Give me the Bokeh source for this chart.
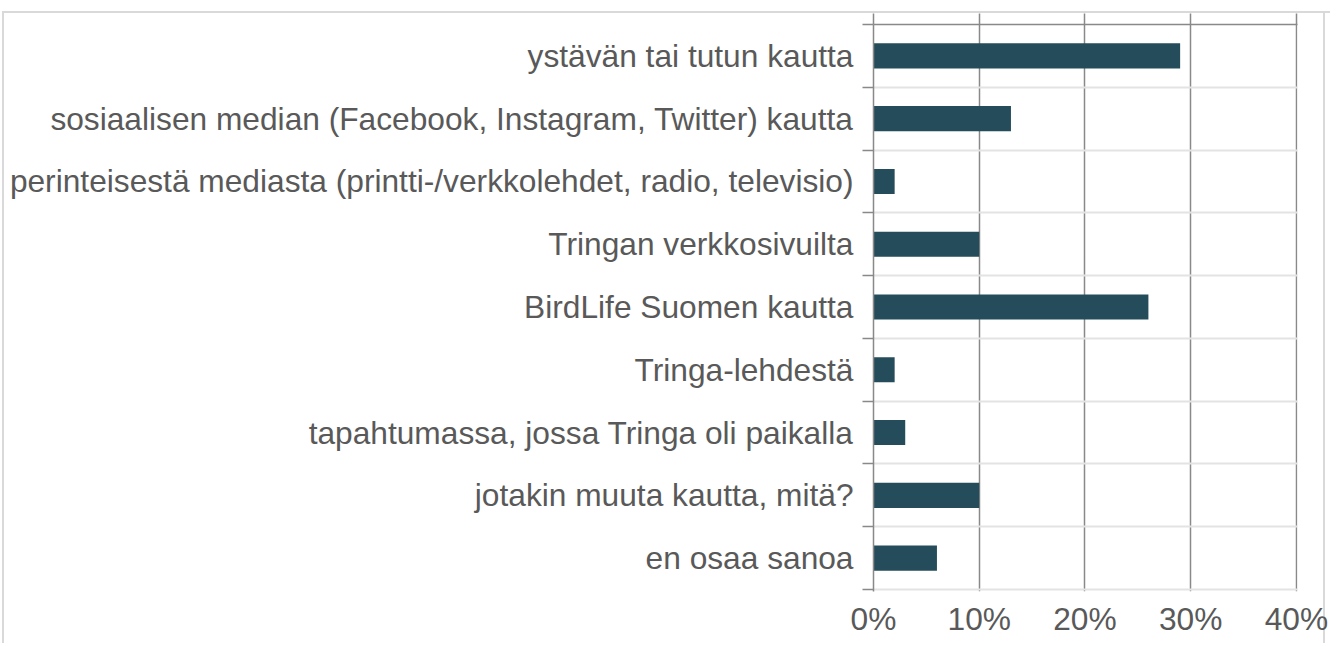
from bokeh.plotting import figure
from bokeh.models import Range1d, FixedTicker, LinearAxis
from bokeh.embed import file_html
from bokeh.resources import INLINE

categories = [
    "ystävän tai tutun kautta",
    "sosiaalisen median (Facebook, Instagram, Twitter) kautta",
    "perinteisestä mediasta (printti-/verkkolehdet, radio, televisio)",
    "Tringan verkkosivuilta",
    "BirdLife Suomen kautta",
    "Tringa-lehdestä",
    "tapahtumassa, jossa Tringa oli paikalla",
    "jotakin muuta kautta, mitä?",
    "en osaa sanoa",
]
values = [29, 13, 2, 10, 26, 2, 3, 10, 6]
x_ticks = [0, 10, 20, 30, 40]
x_tick_labels = ["0%", "10%", "20%", "30%", "40%"]

n = len(categories)
ypos = [n - i - 0.5 for i in range(n)]
boundaries = list(range(n + 1))

FONT = "Liberation Sans"
TXT = "#595959"
GRID = "#898989"
LIGHT = "#e3e3e3"
BAR = "#244c5a"
FS = "31.7px"

p = figure(width=1328, height=630, output_backend="svg", toolbar_location=None,
           x_range=Range1d(0, 40.1), y_range=Range1d(-0.032, n),
           min_border_left=871, min_border_right=33, min_border_top=11,
           min_border_bottom=52)
p.styles = {
    "position": "relative", "left": "2px", "top": "13px",
    "box-shadow": "0 -2px 0 0 #d9d9d9, inset 2px 0 0 0 #d9d9d9, "
                  "inset -5px 0 0 0 #ffffff, inset -7px 0 0 0 #d9d9d9",
}
p.border_fill_color = None
p.background_fill_color = "white"
p.outline_line_color = None

p.hbar(y=ypos, right=values, left=0, height=0.4, color=BAR, line_color=None)

# x axis (bottom)
xa = p.xaxis[0]
xa.ticker = FixedTicker(ticks=x_ticks)
xa.major_label_overrides = {t: l for t, l in zip(x_ticks, x_tick_labels)}
xa.axis_line_color = None
xa.major_tick_line_color = None
xa.minor_tick_line_color = None
xa.major_tick_out = 0
xa.minor_tick_out = 0
xa.major_label_standoff = 9
xa.major_label_text_font = FONT
xa.major_label_text_font_size = FS
xa.major_label_text_color = TXT

# top axis line with ticks
ta = LinearAxis(ticker=FixedTicker(ticks=x_ticks), major_tick_out=11, major_tick_in=0,
                minor_tick_out=0, minor_tick_in=0,
                axis_line_color=GRID, axis_line_width=1.5,
                major_tick_line_color=GRID, major_tick_line_width=1.5,
                minor_tick_line_color=None,
                major_label_text_font_size="0px", major_label_standoff=0)
ta.major_label_overrides = {t: "" for t in x_ticks}
p.add_layout(ta, "above")

# y axis
ya = p.yaxis[0]
ya.ticker = FixedTicker(ticks=ypos, minor_ticks=boundaries)
ya.major_label_overrides = {y: c for y, c in zip(ypos, categories)}
ya.axis_line_color = GRID
ya.axis_line_width = 1.5
ya.major_tick_line_color = None
ya.major_tick_out = 0
ya.major_tick_in = 0
ya.minor_tick_line_color = GRID
ya.minor_tick_line_width = 1.5
ya.minor_tick_out = 11
ya.minor_tick_in = 0
ya.major_label_standoff = 9
ya.major_label_text_font = FONT
ya.major_label_text_font_size = FS
ya.major_label_text_color = TXT

p.xgrid.grid_line_color = GRID
p.xgrid.grid_line_width = 1.5
p.ygrid.grid_line_color = None
p.ygrid.minor_grid_line_color = LIGHT
p.ygrid.minor_grid_line_width = 2

open("out.html", "w").write(file_html(p, INLINE))
